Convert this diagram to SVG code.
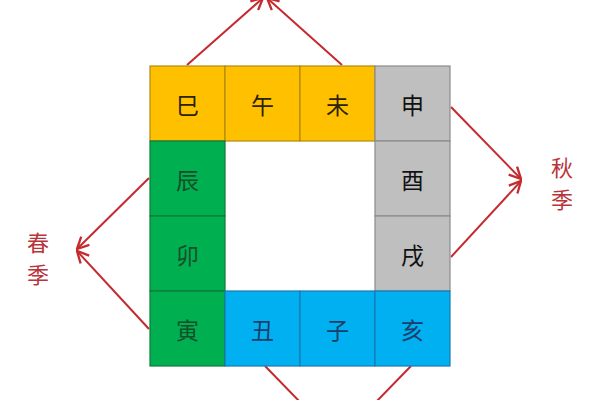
<svg xmlns="http://www.w3.org/2000/svg" width="600" height="400" viewBox="0 0 600 400">
<defs>
<style>
.cell{stroke-width:1.2}
.y{fill:#FFC000;stroke:#B08A10}
.g{fill:#BFBFBF;stroke:#8C8C8C}
.gr{fill:#00B050;stroke:#0F7A3A}
.b{fill:#00B0F0;stroke:#1A7BB0}
.t{font-family:"Noto Sans CJK SC","Noto Sans CJK JP",sans-serif;font-size:23px;text-anchor:middle;dominant-baseline:central}
.ty{fill:#2b2208}
.tg{fill:#111111}
.tgr{fill:#154f2a}
.tb{fill:#1b3e6a}
.lbl{font-family:"Noto Sans CJK SC","Noto Sans CJK JP",sans-serif;font-size:22px;fill:#b8343a;text-anchor:middle;dominant-baseline:central}
.conn{stroke:#C42A2E;stroke-width:2;fill:none}
</style>
<marker id="ah" viewBox="0 0 12 12" refX="11" refY="6" markerWidth="14" markerHeight="14" markerUnits="userSpaceOnUse" orient="auto">
<path d="M1,1 L11,6 L1,11" fill="none" stroke="#C42A2E" stroke-width="2"/>
</marker>
</defs>
<rect width="600" height="400" fill="#ffffff"/>
<g id="connectors">
<line class="conn" x1="187" y1="65" x2="263" y2="-2" marker-end="url(#ah)"/>
<line class="conn" x1="342" y1="65" x2="267" y2="-2" marker-end="url(#ah)"/>
<line class="conn" x1="149" y1="178" x2="77" y2="249" marker-end="url(#ah)"/>
<line class="conn" x1="149" y1="329" x2="77" y2="251" marker-end="url(#ah)"/>
<line class="conn" x1="451" y1="107" x2="521" y2="179" marker-end="url(#ah)"/>
<line class="conn" x1="451" y1="257" x2="521" y2="181" marker-end="url(#ah)"/>
<line class="conn" x1="265" y1="366" x2="337" y2="440"/>
<line class="conn" x1="411" y1="366" x2="339" y2="440"/>
</g>
<g id="si"><rect class="cell y" x="150" y="66" width="75" height="75"/><text class="t ty" x="187.5" y="103.5">巳</text></g>
<g id="wu"><rect class="cell y" x="225" y="66" width="75" height="75"/><text class="t ty" x="262.5" y="103.5">午</text></g>
<g id="wei"><rect class="cell y" x="300" y="66" width="75" height="75"/><text class="t ty" x="337.5" y="103.5">未</text></g>
<g id="shen"><rect class="cell g" x="375" y="66" width="75" height="75"/><text class="t tg" x="412.5" y="103.5">申</text></g>
<g id="you"><rect class="cell g" x="375" y="141" width="75" height="75"/><text class="t tg" x="412.5" y="178.5">酉</text></g>
<g id="xu"><rect class="cell g" x="375" y="216" width="75" height="75"/><text class="t tg" x="412.5" y="253.5">戌</text></g>
<g id="chen"><rect class="cell gr" x="150" y="141" width="75" height="75"/><text class="t tgr" x="187.5" y="178.5">辰</text></g>
<g id="mao"><rect class="cell gr" x="150" y="216" width="75" height="75"/><text class="t tgr" x="187.5" y="253.5">卯</text></g>
<g id="yin"><rect class="cell gr" x="150" y="291" width="75" height="75"/><text class="t tgr" x="187.5" y="328.5">寅</text></g>
<g id="chou"><rect class="cell b" x="225" y="291" width="75" height="75"/><text class="t tb" x="262.5" y="328.5">丑</text></g>
<g id="zi"><rect class="cell b" x="300" y="291" width="75" height="75"/><text class="t tb" x="337.5" y="328.5">子</text></g>
<g id="hai"><rect class="cell b" x="375" y="291" width="75" height="75"/><text class="t tb" x="412.5" y="328.5">亥</text></g>
<g id="spring"><text class="lbl" x="38" y="241">春</text><text class="lbl" x="38" y="273">季</text></g>
<g id="autumn"><text class="lbl" x="562" y="166">秋</text><text class="lbl" x="562" y="198">季</text></g>
</svg>
